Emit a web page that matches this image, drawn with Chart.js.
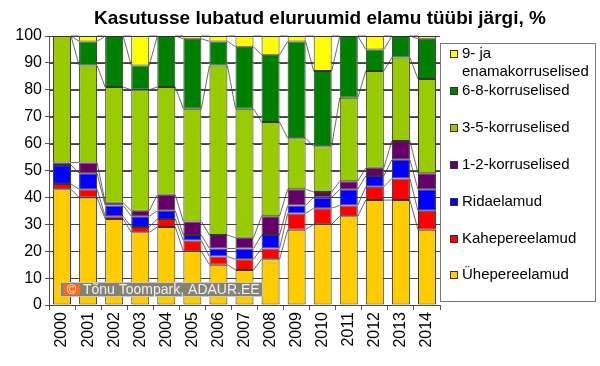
<!DOCTYPE html>
<html>
<head>
<meta charset="utf-8">
<script src="https://cdn.jsdelivr.net/npm/chart.js@4/dist/chart.umd.min.js"></script>
<style>
  html, body { margin: 0; padding: 0; background: #fff; }
  #wrap { width: 600px; height: 366px; }
</style>
</head>
<body>
<div id="wrap"><canvas id="chart" width="600" height="366"></canvas></div>
<script>
const years = ['2000', '2001', '2002', '2003', '2004', '2005', '2006', '2007', '2008', '2009', '2010', '2011', '2012', '2013', '2014'];

// osakaal protsentides, alt üles
const yhepere  = [43, 40, 32, 27, 29, 20, 15, 13, 17, 28, 30, 33, 39, 39, 28];
const kahepere = [2, 3, 1, 2, 3, 4, 3, 4, 4, 6, 6, 4, 5, 8, 7];
const rida     = [7, 6, 4, 4, 3, 2, 3, 4, 5, 3, 4, 6, 4, 7, 8];
const korrus12 = [1, 4, 1, 2, 6, 5, 5, 4, 7, 6, 2, 3, 3, 7, 6];
const korrus35 = [47, 36, 43, 45, 40, 42, 63, 48, 35, 19, 17, 31, 36, 31, 35];
const korrus68 = [0, 9, 19, 9, 19, 26, 9, 23, 25, 36, 28, 23, 8, 8, 15];
const korrus9  = [0, 2, 0, 11, 0, 1, 2, 4, 7, 2, 13, 0, 5, 0, 1];

const FONT = "'Liberation Sans', Arial, sans-serif";

function dotted(color, dot) {
  const c = document.createElement('canvas');
  c.width = 8; c.height = 8;
  const g = c.getContext('2d');
  g.fillStyle = color;
  g.fillRect(0, 0, 8, 8);
  g.fillStyle = dot;
  g.fillRect(2, 2, 1, 1);
  g.fillRect(6, 6, 1, 1);
  return g.createPattern(c, 'repeat');
}

const series = [
  { label: 'Ühepereelamud', data: yhepere, color: '#FFCC00', dot: '#eebf10' },
  { label: 'Kahepereelamud', data: kahepere, color: '#FF0000', dot: '#ee1010' },
  { label: 'Ridaelamud', data: rida, color: '#0000FF', dot: '#1010ee' },
  { label: '1-2-korruselised', data: korrus12, color: '#660066', dot: '#5e105e' },
  { label: '3-5-korruselised', data: korrus35, color: '#99CC00', dot: '#8cbb10' },
  { label: '6-8-korruselised', data: korrus68, color: '#008000', dot: '#107410' },
  { label: ['9- ja', 'enamakorruselised'], data: korrus9, color: '#FFFF00', dot: '#eeee10' }
];

// abijooned tulpade vahedesse + seerialiinid tulpade servade vahel
const seriesLines = {
  id: 'seriesLines',
  afterDatasetsDraw(chart) {
    const ctx = chart.ctx;
    const ys = chart.scales.y;
    const area = chart.chartArea;
    const bars0 = chart.getDatasetMeta(0).data;
    ctx.save();

    // gaps between bars, computed from the bar elements
    const gaps = [];
    let prev = area.left;
    bars0.forEach(b => {
      gaps.push([prev, b.x - b.width / 2]);
      prev = b.x + b.width / 2;
    });
    gaps.push([prev, area.right]);

    ctx.strokeStyle = '#404040';
    ctx.lineWidth = 1;
    ys.ticks.forEach(t => {
      const py = Math.round(ys.getPixelForValue(t.value)) + 0.5;
      gaps.forEach(([x0, x1]) => {
        ctx.beginPath();
        ctx.moveTo(x0, py);
        ctx.lineTo(x1, py);
        ctx.stroke();
      });
    });

    ctx.strokeStyle = '#444';
    ctx.lineWidth = 0.8;
    chart.data.datasets.forEach((ds, i) => {
      const bars = chart.getDatasetMeta(i).data;
      for (let j = 0; j < bars.length - 1; j++) {
        const a = bars[j], b = bars[j + 1];
        ctx.beginPath();
        ctx.moveTo(a.x + a.width / 2, a.y);
        ctx.lineTo(b.x - b.width / 2, b.y);
        ctx.stroke();
      }
    });
    ctx.restore();
  }
};

const extras = {
  id: 'extras',
  afterDraw(chart) {
    const ctx = chart.ctx;
    ctx.save();

    // pealkiri
    ctx.fillStyle = '#000';
    ctx.font = 'bold 19px ' + FONT;
    ctx.textAlign = 'center';
    ctx.textBaseline = 'middle';
    ctx.fillText('Kasutusse lubatud eluruumid elamu tüübi järgi, %', 320, 19);

    // autoriõigus
    ctx.fillStyle = 'rgba(128,128,118,0.97)';
    ctx.fillRect(60, 282, 203, 15);
    ctx.strokeStyle = '#c8c8c0';
    ctx.lineWidth = 1;
    ctx.strokeRect(60.5, 282.5, 202, 14);
    ctx.fillStyle = '#ff6a1a';
    ctx.fillRect(63, 284, 17, 11);
    ctx.fillStyle = '#fff';
    ctx.font = '13px ' + FONT;
    ctx.textAlign = 'center';
    ctx.fillText('©', 71.5, 290);
    ctx.fillStyle = '#f0f0f0';
    ctx.font = '14px ' + FONT;
    ctx.textAlign = 'left';
    ctx.fillText('Tõnu Toompark, ADAUR.EE', 83, 290);

    // legend
    ctx.fillStyle = '#fff';
    ctx.fillRect(440, 43, 156, 258);
    ctx.strokeStyle = '#777';
    ctx.strokeRect(440.5, 43.5, 155, 258);
    const rows = [275, 239, 202, 165, 128, 91, 54];
    ctx.font = '15px ' + FONT;
    ctx.textBaseline = 'middle';
    series.forEach((s, i) => {
      const y = rows[i];
      ctx.fillStyle = s.color;
      ctx.fillRect(450.5, y - 3.5, 7, 7);
      ctx.strokeStyle = '#333';
      ctx.strokeRect(450.5, y - 3.5, 7, 7);
      ctx.fillStyle = '#000';
      const lines = Array.isArray(s.label) ? s.label : [s.label];
      lines.forEach((t, k) => ctx.fillText(t, 462, y + k * 18));
    });

    ctx.restore();
  }
};

const ctx = document.getElementById('chart').getContext('2d');
new Chart(ctx, {
  type: 'bar',
  data: {
    labels: years,
    datasets: series.map(s => ({
      label: Array.isArray(s.label) ? s.label.join(' ') : s.label,
      data: s.data,
      backgroundColor: dotted(s.color, s.dot),
      borderColor: '#333',
      borderWidth: 1,
      borderSkipped: false,
      barPercentage: 0.69,
      categoryPercentage: 1.0
    }))
  },
  options: {
    responsive: false,
    animation: false,
    layout: { padding: { left: 0, right: 160, top: 36, bottom: 0 } },
    plugins: {
      legend: { display: false },
      title: { display: false },
      tooltip: { enabled: false }
    },
    scales: {
      x: {
        stacked: true,
        grid: { display: true, drawOnChartArea: false, offset: true, color: '#555', tickLength: 5 },
        border: { color: '#555' },
        ticks: {
          color: '#000',
          font: { family: FONT, size: 16 },
          minRotation: 90,
          maxRotation: 90,
          padding: 2
        },
        afterFit(scale) { scale.height = 61; }
      },
      y: {
        stacked: true,
        min: 0,
        max: 100,
        grid: { color: '#555', lineWidth: 1, tickLength: 4 },
        border: { color: '#555' },
        ticks: {
          stepSize: 10,
          color: '#000',
          font: { family: FONT, size: 16 },
          padding: 3
        },
        afterFit(scale) { scale.width = 49; }
      }
    }
  },
  plugins: [seriesLines, extras]
});
</script>
</body>
</html>
